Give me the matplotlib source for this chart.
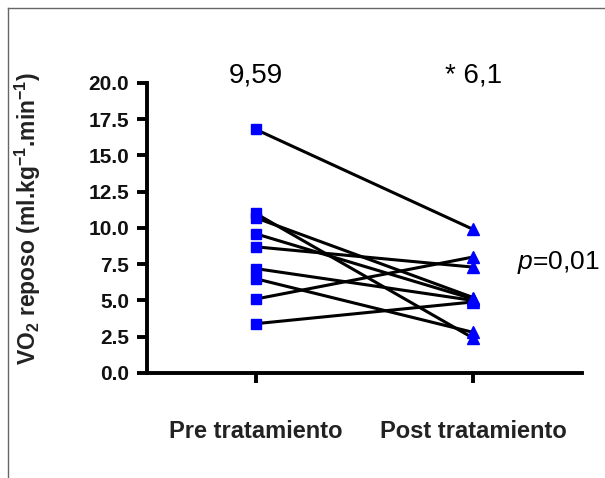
import numpy as np
import matplotlib
matplotlib.use('Agg')
import matplotlib.pyplot as plt
from matplotlib.lines import Line2D

plt.rcParams['font.family'] = ['Liberation Sans', 'DejaVu Sans']
plt.rcParams['mathtext.fontset'] = 'custom'
plt.rcParams['mathtext.rm'] = 'Liberation Sans:bold'
plt.rcParams['mathtext.it'] = 'Liberation Sans:italic'
plt.rcParams['mathtext.default'] = 'rm'

# data (one pair per subject)
groups = ['Pre tratamiento', 'Post tratamiento']
pre = [16.8, 11.0, 10.7, 9.6, 8.7, 7.2, 6.5, 5.1, 3.4]
post = [9.9, 2.4, 5.2, 5.1, 7.3, 5.0, 2.8, 8.0, 4.9]
mean_labels = ['9,59', '* 6,1']
p_label = r'$\mathit{p}$=0,01'
yticks = [0.0, 2.5, 5.0, 7.5, 10.0, 12.5, 15.0, 17.5, 20.0]

fig = plt.figure(figsize=(6.05, 4.78), dpi=100)
ax = fig.add_axes([0.243, 0.2197, 0.719, 0.6067])

x = np.arange(len(groups))
for a, b in zip(pre, post):
    ax.plot(x, [a, b], color='black', lw=2.2, zorder=2, clip_on=False)
ax.plot(np.zeros(len(pre)), pre, 's', color='#0000ff', ms=7.5, mec='#0000ff',
        zorder=3, clip_on=False)
ax.plot(np.ones(len(post)), post, '^', color='#0000ff', ms=9, mec='#0000ff',
        zorder=3, clip_on=False)

ax.set_xlim(-0.5, 1.5)
ax.set_ylim(0, 20)
ax.set_yticks(yticks)
ax.set_yticklabels([f'{v:.1f}' for v in yticks], fontsize=15, fontweight='bold',
                   color='#111111')
ax.set_xticks(x)
ax.set_xticklabels(groups, fontsize=17, fontweight='bold', color='#222222')

for s in ['top', 'right']:
    ax.spines[s].set_visible(False)
for s in ['left', 'bottom']:
    ax.spines[s].set_linewidth(2.8)
ax.tick_params(axis='y', length=7, width=2.8, pad=6)
ax.tick_params(axis='x', length=7, width=2.8, pad=27)

ax.set_ylabel(r'VO$_2$ reposo (ml.kg$^{-1}$.min$^{-1}$)', fontsize=16.5,
              fontweight='bold', color='#222222')
ax.yaxis.set_label_coords(-0.239, 0.534)

for xi, lab in zip(x, mean_labels):
    ax.text(xi, 20.5, lab, ha='center', va='center', fontsize=20)
ax.text(1.2, 7.65, p_label, ha='left', va='center', fontsize=19)

# frame lines of the original picture (left and top)
fig.add_artist(Line2D([8 / 605, 8 / 605], [0, 1 - 8 / 478], color='#666666', lw=1.0))
fig.add_artist(Line2D([8 / 605, 1], [1 - 8 / 478, 1 - 8 / 478], color='#666666', lw=1.0))

fig.savefig('out.png', dpi=100)
